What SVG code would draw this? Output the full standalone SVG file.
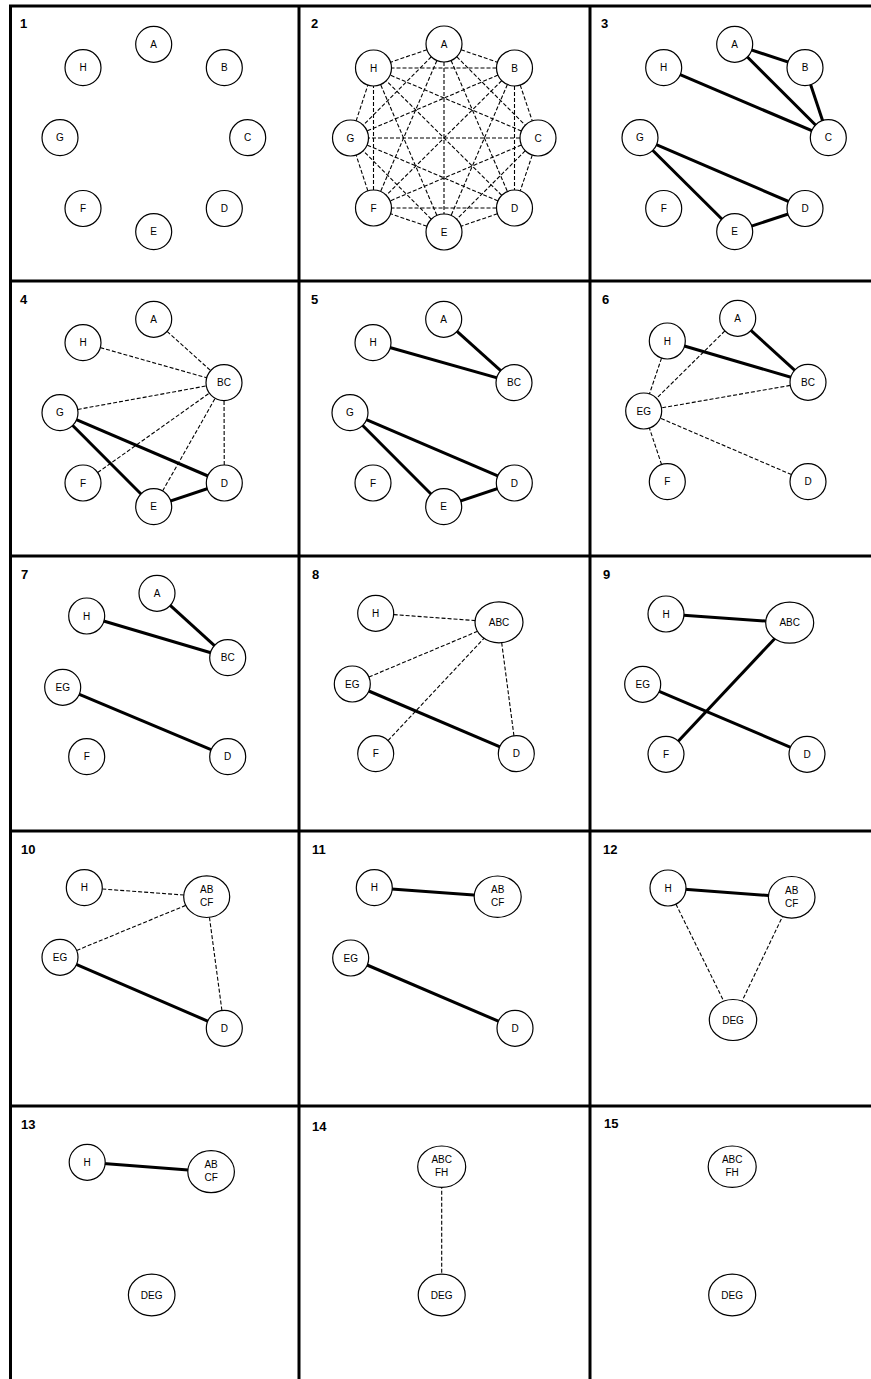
<svg xmlns="http://www.w3.org/2000/svg" width="871" height="1379" viewBox="0 0 871 1379">
<style>
.bg{fill:#fff}
.grid{stroke:#000;stroke-width:3;fill:none}
.num{font-family:"Liberation Sans",Arial,sans-serif;font-size:13px;font-weight:bold;fill:#000}
.n{fill:#fff;stroke:#000;stroke-width:1.2}
.t{font-family:"Liberation Sans",Arial,sans-serif;font-size:10px;fill:#000;text-anchor:middle}
.s{stroke:#000;stroke-width:3;fill:none}
.d{stroke:#000;stroke-width:1.1;stroke-dasharray:4 2;fill:none}
</style>
<rect class="bg" x="0" y="0" width="871" height="1379"/>
<g id="grid">
<line class="grid" x1="10.5" y1="6" x2="10.5" y2="1379"/>
<line class="grid" x1="299" y1="6" x2="299" y2="1379"/>
<line class="grid" x1="590" y1="6" x2="590" y2="1379"/>
<line class="grid" x1="9" y1="6" x2="871" y2="6"/>
<line class="grid" x1="9" y1="281" x2="871" y2="281"/>
<line class="grid" x1="9" y1="556" x2="871" y2="556"/>
<line class="grid" x1="9" y1="831" x2="871" y2="831"/>
<line class="grid" x1="9" y1="1106" x2="871" y2="1106"/>
</g>
<g id="labels">
<text class="num" x="20" y="28">1</text>
<text class="num" x="311" y="28">2</text>
<text class="num" x="601" y="28">3</text>
<text class="num" x="20" y="304">4</text>
<text class="num" x="311" y="304">5</text>
<text class="num" x="602" y="304">6</text>
<text class="num" x="21" y="579">7</text>
<text class="num" x="312" y="579">8</text>
<text class="num" x="603" y="579">9</text>
<text class="num" x="21" y="854">10</text>
<text class="num" x="312" y="854">11</text>
<text class="num" x="603" y="854">12</text>
<text class="num" x="21" y="1129">13</text>
<text class="num" x="312" y="1131">14</text>
<text class="num" x="604" y="1128">15</text>
</g>
<g id="connectors">
<!-- panel 2: complete graph -->
<g class="p2">
<line class="d" x1="444" y1="44" x2="514.5" y2="68"/>
<line class="d" x1="444" y1="44" x2="538" y2="138"/>
<line class="d" x1="444" y1="44" x2="514.5" y2="208"/>
<line class="d" x1="444" y1="44" x2="444" y2="232"/>
<line class="d" x1="444" y1="44" x2="373.5" y2="208"/>
<line class="d" x1="444" y1="44" x2="350.5" y2="138"/>
<line class="d" x1="444" y1="44" x2="373.5" y2="68"/>
<line class="d" x1="514.5" y1="68" x2="538" y2="138"/>
<line class="d" x1="514.5" y1="68" x2="514.5" y2="208"/>
<line class="d" x1="514.5" y1="68" x2="444" y2="232"/>
<line class="d" x1="514.5" y1="68" x2="373.5" y2="208"/>
<line class="d" x1="514.5" y1="68" x2="350.5" y2="138"/>
<line class="d" x1="514.5" y1="68" x2="373.5" y2="68"/>
<line class="d" x1="538" y1="138" x2="514.5" y2="208"/>
<line class="d" x1="538" y1="138" x2="444" y2="232"/>
<line class="d" x1="538" y1="138" x2="373.5" y2="208"/>
<line class="d" x1="538" y1="138" x2="350.5" y2="138"/>
<line class="d" x1="538" y1="138" x2="373.5" y2="68"/>
<line class="d" x1="514.5" y1="208" x2="444" y2="232"/>
<line class="d" x1="514.5" y1="208" x2="373.5" y2="208"/>
<line class="d" x1="514.5" y1="208" x2="350.5" y2="138"/>
<line class="d" x1="514.5" y1="208" x2="373.5" y2="68"/>
<line class="d" x1="444" y1="232" x2="373.5" y2="208"/>
<line class="d" x1="444" y1="232" x2="350.5" y2="138"/>
<line class="d" x1="444" y1="232" x2="373.5" y2="68"/>
<line class="d" x1="373.5" y1="208" x2="350.5" y2="138"/>
<line class="d" x1="373.5" y1="208" x2="373.5" y2="68"/>
<line class="d" x1="350.5" y1="138" x2="373.5" y2="68"/>
</g>
<!-- panel 3 -->
<g class="p3">
<line class="s" x1="734.7" y1="44.3" x2="805" y2="67.7"/>
<line class="s" x1="734.7" y1="44.3" x2="828.3" y2="137.7"/>
<line class="s" x1="805" y1="67.7" x2="828.3" y2="137.7"/>
<line class="s" x1="663.7" y1="67.7" x2="828.3" y2="137.7"/>
<line class="s" x1="640" y1="137.7" x2="805" y2="208.5"/>
<line class="s" x1="640" y1="137.7" x2="734.7" y2="231.7"/>
<line class="s" x1="734.7" y1="231.7" x2="805" y2="208.5"/>
</g>
<!-- panel 4 -->
<g class="p4">
<line class="d" x1="153.7" y1="319.3" x2="224" y2="382.7"/>
<line class="d" x1="83" y1="342.7" x2="224" y2="382.7"/>
<line class="d" x1="60" y1="412.7" x2="224" y2="382.7"/>
<line class="d" x1="83" y1="483" x2="224" y2="382.7"/>
<line class="d" x1="153.7" y1="506.7" x2="224" y2="382.7"/>
<line class="d" x1="224.3" y1="483" x2="224" y2="382.7"/>
<line class="s" x1="60" y1="412.7" x2="224.3" y2="483"/>
<line class="s" x1="60" y1="412.7" x2="153.7" y2="506.7"/>
<line class="s" x1="153.7" y1="506.7" x2="224.3" y2="483"/>
</g>
<!-- panel 5 -->
<g class="p5">
<line class="s" x1="373" y1="342.7" x2="514" y2="382.7"/>
<line class="s" x1="443.7" y1="319.3" x2="514" y2="382.7"/>
<line class="s" x1="350" y1="412.7" x2="514.3" y2="483"/>
<line class="s" x1="350" y1="412.7" x2="443.7" y2="506.7"/>
<line class="s" x1="443.7" y1="506.7" x2="514.3" y2="483"/>
</g>
<!-- panel 6 -->
<g class="p6">
<line class="s" x1="737.7" y1="318.3" x2="808" y2="382.3"/>
<line class="s" x1="667.3" y1="341" x2="808" y2="382.3"/>
<line class="d" x1="667.3" y1="341" x2="643.7" y2="411"/>
<line class="d" x1="737.7" y1="318.3" x2="643.7" y2="411"/>
<line class="d" x1="808" y1="382.3" x2="643.7" y2="411"/>
<line class="d" x1="667.3" y1="481.7" x2="643.7" y2="411"/>
<line class="d" x1="808" y1="481.7" x2="643.7" y2="411"/>
</g>
<!-- panel 7 -->
<g class="p7">
<line class="s" x1="157" y1="593.3" x2="227.7" y2="657.7"/>
<line class="s" x1="86.7" y1="616" x2="227.7" y2="657.7"/>
<line class="s" x1="62.7" y1="687.3" x2="227.7" y2="756.7"/>
</g>
<!-- panel 8 -->
<g class="p8">
<line class="d" x1="375.7" y1="613.3" x2="499" y2="622.3"/>
<line class="d" x1="352.3" y1="684" x2="499" y2="622.3"/>
<line class="d" x1="375.7" y1="753.7" x2="499" y2="622.3"/>
<line class="d" x1="516.3" y1="753.7" x2="499" y2="622.3"/>
<line class="s" x1="352.3" y1="684" x2="516.3" y2="753.7"/>
</g>
<!-- panel 9 -->
<g class="p9">
<line class="s" x1="666" y1="614" x2="789.7" y2="622.7"/>
<line class="s" x1="666" y1="754.3" x2="789.7" y2="622.7"/>
<line class="s" x1="642.7" y1="684.3" x2="807" y2="754.3"/>
</g>
<!-- panel 10 -->
<g class="p10">
<line class="d" x1="84.3" y1="887.7" x2="206.7" y2="896.7"/>
<line class="d" x1="60" y1="957.3" x2="206.7" y2="896.7"/>
<line class="d" x1="224.3" y1="1028.3" x2="206.7" y2="896.7"/>
<line class="s" x1="60" y1="957.3" x2="224.3" y2="1028.3"/>
</g>
<!-- panel 11 -->
<g class="p11">
<line class="s" x1="374.3" y1="887.7" x2="497.7" y2="896.7"/>
<line class="s" x1="350.7" y1="958" x2="515" y2="1028.3"/>
</g>
<!-- panel 12 -->
<g class="p12">
<line class="s" x1="668" y1="888" x2="791.7" y2="897.3"/>
<line class="d" x1="668" y1="888" x2="733" y2="1020"/>
<line class="d" x1="791.7" y1="897.3" x2="733" y2="1020"/>
</g>
<!-- panel 13 -->
<g class="p13">
<line class="s" x1="87.2" y1="1162.3" x2="211.1" y2="1171.7"/>
</g>
<!-- panel 14 -->
<g class="p14">
<line class="d" x1="441.7" y1="1166.7" x2="441.7" y2="1295"/>
</g>
</g>
<g id="panel1">
<g id="p1-A"><circle class="n" cx="153.7" cy="44.3" r="18"/><text class="t" x="153.7" y="47.9">A</text></g>
<g id="p1-B"><circle class="n" cx="224.3" cy="67.7" r="18"/><text class="t" x="224.3" y="71.3">B</text></g>
<g id="p1-C"><circle class="n" cx="247.7" cy="137.7" r="18"/><text class="t" x="247.7" y="141.3">C</text></g>
<g id="p1-D"><circle class="n" cx="224.3" cy="208.5" r="18"/><text class="t" x="224.3" y="212.1">D</text></g>
<g id="p1-E"><circle class="n" cx="153.7" cy="231.7" r="18"/><text class="t" x="153.7" y="235.3">E</text></g>
<g id="p1-F"><circle class="n" cx="83" cy="208.5" r="18"/><text class="t" x="83" y="212.1">F</text></g>
<g id="p1-G"><circle class="n" cx="60" cy="137.7" r="18"/><text class="t" x="60" y="141.3">G</text></g>
<g id="p1-H"><circle class="n" cx="83" cy="67.7" r="18"/><text class="t" x="83" y="71.3">H</text></g>
</g>
<g id="panel2">
<g id="p2-A"><circle class="n" cx="444" cy="44" r="18"/><text class="t" x="444" y="47.6">A</text></g>
<g id="p2-B"><circle class="n" cx="514.5" cy="68" r="18"/><text class="t" x="514.5" y="71.6">B</text></g>
<g id="p2-C"><circle class="n" cx="538" cy="138" r="18"/><text class="t" x="538" y="141.6">C</text></g>
<g id="p2-D"><circle class="n" cx="514.5" cy="208" r="18"/><text class="t" x="514.5" y="211.6">D</text></g>
<g id="p2-E"><circle class="n" cx="444" cy="232" r="18"/><text class="t" x="444" y="235.6">E</text></g>
<g id="p2-F"><circle class="n" cx="373.5" cy="208" r="18"/><text class="t" x="373.5" y="211.6">F</text></g>
<g id="p2-G"><circle class="n" cx="350.5" cy="138" r="18"/><text class="t" x="350.5" y="141.6">G</text></g>
<g id="p2-H"><circle class="n" cx="373.5" cy="68" r="18"/><text class="t" x="373.5" y="71.6">H</text></g>
</g>
<g id="panel3">
<g id="p3-A"><circle class="n" cx="734.7" cy="44.3" r="18"/><text class="t" x="734.7" y="47.9">A</text></g>
<g id="p3-B"><circle class="n" cx="805" cy="67.7" r="18"/><text class="t" x="805" y="71.3">B</text></g>
<g id="p3-C"><circle class="n" cx="828.3" cy="137.7" r="18"/><text class="t" x="828.3" y="141.3">C</text></g>
<g id="p3-D"><circle class="n" cx="805" cy="208.5" r="18"/><text class="t" x="805" y="212.1">D</text></g>
<g id="p3-E"><circle class="n" cx="734.7" cy="231.7" r="18"/><text class="t" x="734.7" y="235.3">E</text></g>
<g id="p3-F"><circle class="n" cx="663.7" cy="208.5" r="18"/><text class="t" x="663.7" y="212.1">F</text></g>
<g id="p3-G"><circle class="n" cx="640" cy="137.7" r="18"/><text class="t" x="640" y="141.3">G</text></g>
<g id="p3-H"><circle class="n" cx="663.7" cy="67.7" r="18"/><text class="t" x="663.7" y="71.3">H</text></g>
</g>
<g id="panel4">
<g id="p4-A"><circle class="n" cx="153.7" cy="319.3" r="18"/><text class="t" x="153.7" y="322.9">A</text></g>
<g id="p4-H"><circle class="n" cx="83" cy="342.7" r="18"/><text class="t" x="83" y="346.3">H</text></g>
<g id="p4-BC"><circle class="n" cx="224" cy="382.7" r="18"/><text class="t" x="224" y="386.3">BC</text></g>
<g id="p4-G"><circle class="n" cx="60" cy="412.7" r="18"/><text class="t" x="60" y="416.3">G</text></g>
<g id="p4-F"><circle class="n" cx="83" cy="483" r="18"/><text class="t" x="83" y="486.6">F</text></g>
<g id="p4-D"><circle class="n" cx="224.3" cy="483" r="18"/><text class="t" x="224.3" y="486.6">D</text></g>
<g id="p4-E"><circle class="n" cx="153.7" cy="506.7" r="18"/><text class="t" x="153.7" y="510.3">E</text></g>
</g>
<g id="panel5">
<g id="p5-A"><circle class="n" cx="443.7" cy="319.3" r="18"/><text class="t" x="443.7" y="322.9">A</text></g>
<g id="p5-H"><circle class="n" cx="373" cy="342.7" r="18"/><text class="t" x="373" y="346.3">H</text></g>
<g id="p5-BC"><circle class="n" cx="514" cy="382.7" r="18"/><text class="t" x="514" y="386.3">BC</text></g>
<g id="p5-G"><circle class="n" cx="350" cy="412.7" r="18"/><text class="t" x="350" y="416.3">G</text></g>
<g id="p5-F"><circle class="n" cx="373" cy="483" r="18"/><text class="t" x="373" y="486.6">F</text></g>
<g id="p5-D"><circle class="n" cx="514.3" cy="483" r="18"/><text class="t" x="514.3" y="486.6">D</text></g>
<g id="p5-E"><circle class="n" cx="443.7" cy="506.7" r="18"/><text class="t" x="443.7" y="510.3">E</text></g>
</g>
<g id="panel6">
<g id="p6-A"><circle class="n" cx="737.7" cy="318.3" r="18"/><text class="t" x="737.7" y="321.9">A</text></g>
<g id="p6-H"><circle class="n" cx="667.3" cy="341" r="18"/><text class="t" x="667.3" y="344.6">H</text></g>
<g id="p6-BC"><circle class="n" cx="808" cy="382.3" r="18"/><text class="t" x="808" y="385.9">BC</text></g>
<g id="p6-EG"><circle class="n" cx="643.7" cy="411" r="18"/><text class="t" x="643.7" y="414.6">EG</text></g>
<g id="p6-F"><circle class="n" cx="667.3" cy="481.7" r="18"/><text class="t" x="667.3" y="485.3">F</text></g>
<g id="p6-D"><circle class="n" cx="808" cy="481.7" r="18"/><text class="t" x="808" y="485.3">D</text></g>
</g>
<g id="panel7">
<g id="p7-A"><circle class="n" cx="157" cy="593.3" r="18"/><text class="t" x="157" y="596.9">A</text></g>
<g id="p7-H"><circle class="n" cx="86.7" cy="616" r="18"/><text class="t" x="86.7" y="619.6">H</text></g>
<g id="p7-BC"><circle class="n" cx="227.7" cy="657.7" r="18"/><text class="t" x="227.7" y="661.3">BC</text></g>
<g id="p7-EG"><circle class="n" cx="62.7" cy="687.3" r="18"/><text class="t" x="62.7" y="690.9">EG</text></g>
<g id="p7-F"><circle class="n" cx="86.7" cy="756.7" r="18"/><text class="t" x="86.7" y="760.3">F</text></g>
<g id="p7-D"><circle class="n" cx="227.7" cy="756.7" r="18"/><text class="t" x="227.7" y="760.3">D</text></g>
</g>
<g id="panel8">
<g id="p8-H"><circle class="n" cx="375.7" cy="613.3" r="18"/><text class="t" x="375.7" y="616.9">H</text></g>
<g id="p8-ABC"><ellipse class="n" cx="499" cy="622.3" rx="24" ry="20.5"/><text class="t" x="499" y="625.9">ABC</text></g>
<g id="p8-EG"><circle class="n" cx="352.3" cy="684" r="18"/><text class="t" x="352.3" y="687.6">EG</text></g>
<g id="p8-F"><circle class="n" cx="375.7" cy="753.7" r="18"/><text class="t" x="375.7" y="757.3">F</text></g>
<g id="p8-D"><circle class="n" cx="516.3" cy="753.7" r="18"/><text class="t" x="516.3" y="757.3">D</text></g>
</g>
<g id="panel9">
<g id="p9-H"><circle class="n" cx="666" cy="614" r="18"/><text class="t" x="666" y="617.6">H</text></g>
<g id="p9-ABC"><ellipse class="n" cx="789.7" cy="622.7" rx="24" ry="20.5"/><text class="t" x="789.7" y="626.3">ABC</text></g>
<g id="p9-EG"><circle class="n" cx="642.7" cy="684.3" r="18"/><text class="t" x="642.7" y="687.9">EG</text></g>
<g id="p9-F"><circle class="n" cx="666" cy="754.3" r="18"/><text class="t" x="666" y="757.9">F</text></g>
<g id="p9-D"><circle class="n" cx="807" cy="754.3" r="18"/><text class="t" x="807" y="757.9">D</text></g>
</g>
<g id="panel10">
<g id="p10-H"><circle class="n" cx="84.3" cy="887.7" r="18"/><text class="t" x="84.3" y="891.3">H</text></g>
<g id="p10-ABCF"><ellipse class="n" cx="206.7" cy="896.7" rx="23" ry="20.8"/><text class="t" x="206.7" y="893.3">AB</text><text class="t" x="206.7" y="906.3">CF</text></g>
<g id="p10-EG"><circle class="n" cx="60" cy="957.3" r="18"/><text class="t" x="60" y="960.9">EG</text></g>
<g id="p10-D"><circle class="n" cx="224.3" cy="1028.3" r="18"/><text class="t" x="224.3" y="1031.9">D</text></g>
</g>
<g id="panel11">
<g id="p11-H"><circle class="n" cx="374.3" cy="887.7" r="18"/><text class="t" x="374.3" y="891.3">H</text></g>
<g id="p11-ABCF"><ellipse class="n" cx="497.7" cy="896.7" rx="23.5" ry="20.7"/><text class="t" x="497.7" y="893.3">AB</text><text class="t" x="497.7" y="906.3">CF</text></g>
<g id="p11-EG"><circle class="n" cx="350.7" cy="958" r="18"/><text class="t" x="350.7" y="961.6">EG</text></g>
<g id="p11-D"><circle class="n" cx="515" cy="1028.3" r="18"/><text class="t" x="515" y="1031.9">D</text></g>
</g>
<g id="panel12">
<g id="p12-H"><circle class="n" cx="668" cy="888" r="18"/><text class="t" x="668" y="891.6">H</text></g>
<g id="p12-ABCF"><ellipse class="n" cx="791.7" cy="897.3" rx="23.3" ry="20.8"/><text class="t" x="791.7" y="893.9">AB</text><text class="t" x="791.7" y="906.9">CF</text></g>
<g id="p12-DEG"><ellipse class="n" cx="733" cy="1020" rx="23.7" ry="20.5"/><text class="t" x="733" y="1023.6">DEG</text></g>
</g>
<g id="panel13">
<g id="p13-H"><circle class="n" cx="87.2" cy="1162.3" r="18"/><text class="t" x="87.2" y="1165.9">H</text></g>
<g id="p13-ABCF"><ellipse class="n" cx="211.1" cy="1171.7" rx="23.3" ry="21"/><text class="t" x="211.1" y="1168.3">AB</text><text class="t" x="211.1" y="1181.3">CF</text></g>
<g id="p13-DEG"><ellipse class="n" cx="151.7" cy="1295" rx="23.3" ry="20.8"/><text class="t" x="151.7" y="1298.6">DEG</text></g>
</g>
<g id="panel14">
<g id="p14-ABCFH"><ellipse class="n" cx="441.7" cy="1166.7" rx="24" ry="20.7"/><text class="t" x="441.7" y="1163.3">ABC</text><text class="t" x="441.7" y="1176.3">FH</text></g>
<g id="p14-DEG"><ellipse class="n" cx="441.7" cy="1295" rx="23.5" ry="20.8"/><text class="t" x="441.7" y="1298.6">DEG</text></g>
</g>
<g id="panel15">
<g id="p15-ABCFH"><ellipse class="n" cx="732.2" cy="1166.7" rx="24" ry="20.7"/><text class="t" x="732.2" y="1163.3">ABC</text><text class="t" x="732.2" y="1176.3">FH</text></g>
<g id="p15-DEG"><ellipse class="n" cx="732.2" cy="1295" rx="23.5" ry="20.8"/><text class="t" x="732.2" y="1298.6">DEG</text></g>
</g>
</svg>
